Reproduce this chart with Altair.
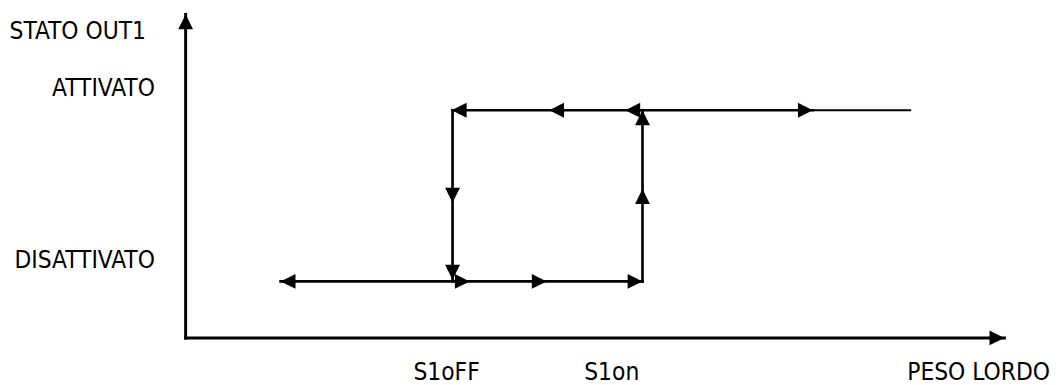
import altair as alt
import pandas as pd

# ---------------- data ----------------
STATE_NAMES = ["DISATTIVATO", "ATTIVATO"]
STATE_LEVELS = [0, 1]
THRESHOLD_NAMES = ["S1oFF", "S1on"]
THRESHOLD_PESO = [32.6, 55.8]
PESO_START = 11.6
PESO_END = 88.5
Y_TITLE = "STATO OUT1"
X_TITLE = "PESO LORDO"

LOWER_ARROW_PESO = [11.6, 34.7, 44.1, 55.8]
LOWER_ARROW_DIR = ["left", "right", "right", "right"]
UPPER_ARROW_PESO = [32.5, 44.4, 53.7, 76.6]
UPPER_ARROW_DIR = ["left", "left", "left", "right"]
FALL_ARROW_STATE = [0.46, 0.01]
RISE_ARROW_STATE = [0.54, 1.0]

X_DOMAIN = [0, 100]
Y_DOMAIN = [-0.33, 1.56]

OFF, ON = STATE_LEVELS
S1OFF, S1ON = THRESHOLD_PESO

FONT = "'DejaVu Sans Condensed', 'Liberation Sans', sans-serif"
FSIZE = 24.5

xs = alt.Scale(domain=X_DOMAIN, nice=False, zero=False)
ys = alt.Scale(domain=Y_DOMAIN, nice=False, zero=False)


def X(f="x"):
    return alt.X(f"{f}:Q", scale=xs, axis=None)


def Y(f="y"):
    return alt.Y(f"{f}:Q", scale=ys, axis=None)


# ---------------- segments ----------------
main_segments = pd.DataFrame([
    dict(x=PESO_START, y=OFF, x2=S1ON, y2=OFF),
    dict(x=S1ON, y=OFF, x2=S1ON, y2=ON),
    dict(x=S1OFF, y=ON, x2=UPPER_ARROW_PESO[-1], y2=ON),
    dict(x=S1OFF, y=ON, x2=S1OFF, y2=OFF),
])
tail_segment = pd.DataFrame([dict(x=UPPER_ARROW_PESO[-1], y=ON, x2=PESO_END, y2=ON)])
axis_segments = pd.DataFrame([
    dict(x=X_DOMAIN[0], y=Y_DOMAIN[0], x2=X_DOMAIN[1], y2=Y_DOMAIN[0]),
    dict(x=X_DOMAIN[0], y=Y_DOMAIN[0], x2=X_DOMAIN[0], y2=Y_DOMAIN[1]),
])


def seg_layer(df, w):
    return alt.Chart(df).mark_rule(color="black", strokeWidth=w, strokeCap="square").encode(
        x=X("x"), x2="x2:Q", y=Y("y"), y2="y2:Q"
    )


# ---------------- arrows ----------------
rows = []
for x, d in zip(LOWER_ARROW_PESO, LOWER_ARROW_DIR):
    rows.append(dict(x=x, y=OFF, dir=d))
for x, d in zip(UPPER_ARROW_PESO, UPPER_ARROW_DIR):
    rows.append(dict(x=x, y=ON, dir=d))
for y in FALL_ARROW_STATE:
    rows.append(dict(x=S1OFF, y=y, dir="down"))
for y in RISE_ARROW_STATE:
    rows.append(dict(x=S1ON, y=y, dir="up"))
rows.append(dict(x=X_DOMAIN[0], y=Y_DOMAIN[1], dir="up"))
rows.append(dict(x=X_DOMAIN[1], y=Y_DOMAIN[0], dir="right"))
arrows = pd.DataFrame(rows)

# tip of each triangle sits on the data point
PATHS = {
    "right": "M0,0L-2,-1L-2,1Z",
    "left": "M0,0L2,-1L2,1Z",
    "up": "M0,0L-1,2L1,2Z",
    "down": "M0,0L-1,-2L1,-2Z",
}

arrow_layers = [
    alt.Chart(arrows).transform_filter(alt.datum.dir == d)
    .mark_point(shape=p, filled=True, color="black", size=225, opacity=1, strokeWidth=0)
    .encode(x=X(), y=Y())
    for d, p in PATHS.items()
]

# ---------------- texts ----------------
def text_layer(df, field, **kw):
    return alt.Chart(df).mark_text(
        font=FONT, fontSize=FSIZE, color="black", baseline="alphabetic", **kw
    ).encode(x=X("x"), y=Y("y"), text=f"{field}:N")


states_df = pd.DataFrame(dict(label=STATE_NAMES, y=STATE_LEVELS, x=[X_DOMAIN[0]] * 2))
ytitle_df = pd.DataFrame(dict(label=[Y_TITLE], x=[X_DOMAIN[0]], y=[Y_DOMAIN[1]]))
xtitle_df = pd.DataFrame(dict(label=[X_TITLE], x=[X_DOMAIN[1]], y=[Y_DOMAIN[0]]))
thr_off_df = pd.DataFrame(dict(label=[THRESHOLD_NAMES[0]], x=[S1OFF], y=[Y_DOMAIN[0]]))
thr_on_df = pd.DataFrame(dict(label=[THRESHOLD_NAMES[1]], x=[S1ON], y=[Y_DOMAIN[0]]))

texts = [
    text_layer(states_df, "label", align="right", dx=-31, dy=-14),
    text_layer(ytitle_df, "label", align="right", dx=-40, dy=24.5),
    text_layer(xtitle_df, "label", align="center", dx=-26, dy=42),
    text_layer(thr_off_df, "label", align="center", dx=-6, dy=42),
    text_layer(thr_on_df, "label", align="center", dx=-31, dy=42),
]

chart = alt.layer(
    seg_layer(axis_segments, 3),
    seg_layer(main_segments, 2.7),
    seg_layer(tail_segment, 2.0),
    *arrow_layers,
    *texts,
).properties(
    width=825,
    height=326,
    padding={"left": 179, "top": 5, "right": 50, "bottom": 46},
    autosize="none",
    background="white",
).configure_view(stroke=None)

chart.save("out.html", embed_options={"renderer": "svg", "actions": False})
